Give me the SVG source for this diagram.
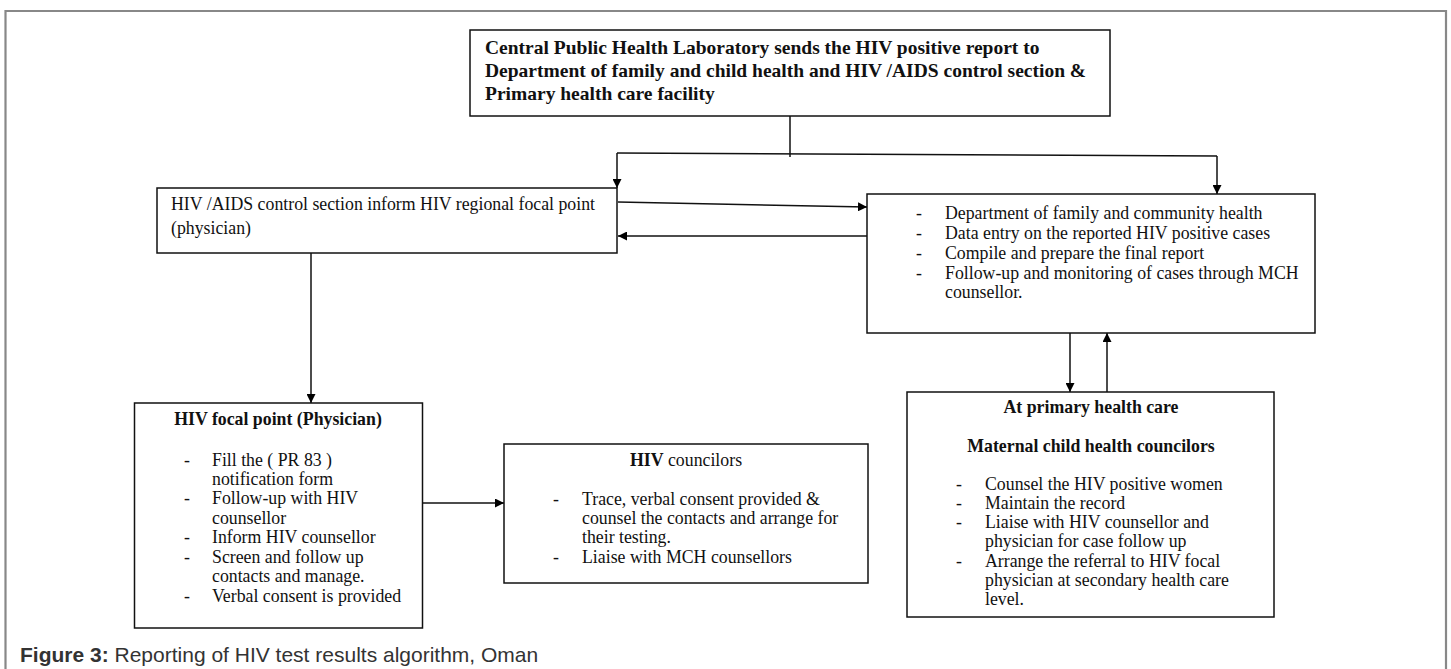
<svg xmlns="http://www.w3.org/2000/svg" width="1451" height="669" viewBox="0 0 1451 669">
<defs>
<marker id="ah" viewBox="0 0 10 10" refX="10" refY="5" markerWidth="9" markerHeight="9" markerUnits="userSpaceOnUse" orient="auto"><path d="M0,0 L10,5 L0,10 z" fill="#000"/></marker>
<style>
.box{fill:#fff;stroke:#111;stroke-width:1.5}
.t{font-family:"Liberation Serif","Times New Roman",serif;font-size:17.8px;fill:#111}
.tb{font-family:"Liberation Serif","Times New Roman",serif;font-size:19.5px;font-weight:bold;fill:#111}
.b{font-weight:bold}
.c{text-anchor:middle}
.ln{fill:none;stroke:#111;stroke-width:1.5}
.ar{fill:none;stroke:#111;stroke-width:1.5;marker-end:url(#ah)}
.cap{font-family:"Liberation Sans",Arial,sans-serif;font-size:21px;fill:#333}
</style>
</defs>
<rect width="1451" height="669" fill="#fff"/>
<path d="M5.5,669 V11 H1446 V669" fill="none" stroke="#888" stroke-width="2.2"/>

<g id="connectors">
<path class="ln" d="M790,116 V157"/>
<path class="ln" d="M617,153 L1217,156"/>
<path class="ar" d="M617,153 V188"/>
<path class="ar" d="M1217,156 V194"/>
<path class="ar" d="M618,202 L867,207"/>
<path class="ar" d="M875,236 H618"/>
<path class="ar" d="M311,246 V403"/>
<path class="ar" d="M422,503 H504"/>
<path class="ar" d="M1070,333 V392"/>
<path class="ar" d="M1107,392 V333"/>
</g>

<g id="node-cphl">
<rect class="box" x="470" y="30" width="640" height="86"/>
<text class="tb" x="485" y="54">Central Public Health Laboratory sends the HIV positive report to</text>
<text class="tb" x="485" y="77">Department of family and child health and HIV /AIDS control section &amp;</text>
<text class="tb" x="485" y="100">Primary health care facility</text>
</g>

<g id="node-aids">
<rect class="box" x="157" y="188" width="460" height="65"/>
<text class="t" x="171" y="210">HIV /AIDS control section inform HIV regional focal point</text>
<text class="t" x="171" y="234">(physician)</text>
</g>

<g id="node-dfch">
<rect class="box" x="867" y="194" width="448" height="139"/>
<text class="t" x="916" y="219">-</text><text class="t" x="945" y="219">Department of family and community health</text>
<text class="t" x="916" y="239">-</text><text class="t" x="945" y="239">Data entry on the reported HIV positive cases</text>
<text class="t" x="916" y="259">-</text><text class="t" x="945" y="259">Compile and prepare the final report</text>
<text class="t" x="916" y="279">-</text><text class="t" x="945" y="279">Follow-up and monitoring of cases through MCH</text>
<text class="t" x="945" y="298">counsellor.</text>
</g>

<g id="node-focal">
<rect class="box" x="134.5" y="403" width="288" height="225"/>
<text class="t b c" x="278" y="425">HIV focal point (Physician)</text>
<text class="t" x="184" y="466">-</text><text class="t" x="212" y="466">Fill the ( PR 83 )</text>
<text class="t" x="212" y="485">notification form</text>
<text class="t" x="184" y="504">-</text><text class="t" x="212" y="504">Follow-up with HIV</text>
<text class="t" x="212" y="524">counsellor</text>
<text class="t" x="184" y="543">-</text><text class="t" x="212" y="543">Inform HIV counsellor</text>
<text class="t" x="184" y="563">-</text><text class="t" x="212" y="563">Screen and follow up</text>
<text class="t" x="212" y="582">contacts and manage.</text>
<text class="t" x="184" y="602">-</text><text class="t" x="212" y="602">Verbal consent is provided</text>
</g>

<g id="node-councilors">
<rect class="box" x="504" y="444" width="364" height="139"/>
<text class="t c" x="686" y="466"><tspan class="b">HIV</tspan> councilors</text>
<text class="t" x="553" y="505">-</text><text class="t" x="582" y="505">Trace, verbal consent provided &amp;</text>
<text class="t" x="582" y="524">counsel the contacts and arrange for</text>
<text class="t" x="582" y="543">their testing.</text>
<text class="t" x="553" y="563">-</text><text class="t" x="582" y="563">Liaise with MCH counsellors</text>
</g>

<g id="node-phc">
<rect class="box" x="907" y="392" width="367" height="225"/>
<text class="t b c" x="1091" y="413">At primary health care</text>
<text class="t b c" x="1091" y="452">Maternal child health councilors</text>
<text class="t" x="956" y="490">-</text><text class="t" x="985" y="490">Counsel the HIV positive women</text>
<text class="t" x="956" y="509">-</text><text class="t" x="985" y="509">Maintain the record</text>
<text class="t" x="956" y="528">-</text><text class="t" x="985" y="528">Liaise with HIV counsellor and</text>
<text class="t" x="985" y="547">physician for case follow up</text>
<text class="t" x="956" y="567">-</text><text class="t" x="985" y="567">Arrange the referral to HIV focal</text>
<text class="t" x="985" y="586">physician at secondary health care</text>
<text class="t" x="985" y="605">level.</text>
</g>

<text class="cap" x="20" y="662"><tspan font-weight="bold">Figure 3:</tspan> Reporting of HIV test results algorithm, Oman</text>
</svg>
